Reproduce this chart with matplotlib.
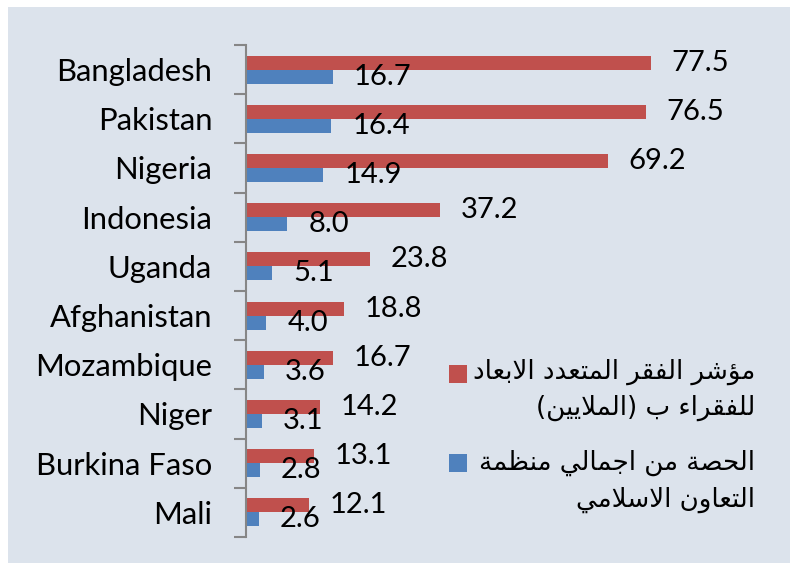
import matplotlib.pyplot as plt
from matplotlib.patches import Rectangle
import numpy as np

# Data
countries = ['Bangladesh', 'Pakistan', 'Nigeria', 'Indonesia', 'Uganda',
             'Afghanistan', 'Mozambique', 'Niger', 'Burkina Faso', 'Mali']
mpi_poor = [77.5, 76.5, 69.2, 37.2, 23.8, 18.8, 16.7, 14.2, 13.1, 12.1]
oic_share = [16.7, 16.4, 14.9, 8.0, 5.1, 4.0, 3.6, 3.1, 2.8, 2.6]
legend_lines = [['مؤشر الفقر المتعدد الابعاد', 'للفقراء ب (الملايين)'],
                ['الحصة من اجمالي منظمة', 'التعاون الاسلامي']]

red = '#c0504d'
blue = '#4f81bd'
bg = '#dce3ec'

# matplotlib has no arabic shaping, so build presentation forms by hand
AR_FORMS = {
    'ء': ('\ufe80',),
    'ا': ('\ufe8d', '\ufe8e'),
    'ؤ': ('\ufe85', '\ufe86'),
    'ب': ('\ufe8f', '\ufe90', '\ufe91', '\ufe92'),
    'ة': ('\ufe93', '\ufe94'),
    'ت': ('\ufe95', '\ufe96', '\ufe97', '\ufe98'),
    'ج': ('\ufe9d', '\ufe9e', '\ufe9f', '\ufea0'),
    'ح': ('\ufea1', '\ufea2', '\ufea3', '\ufea4'),
    'د': ('\ufea9', '\ufeaa'),
    'ر': ('\ufead', '\ufeae'),
    'س': ('\ufeb1', '\ufeb2', '\ufeb3', '\ufeb4'),
    'ش': ('\ufeb5', '\ufeb6', '\ufeb7', '\ufeb8'),
    'ص': ('\ufeb9', '\ufeba', '\ufebb', '\ufebc'),
    'ظ': ('\ufec5', '\ufec6', '\ufec7', '\ufec8'),
    'ع': ('\ufec9', '\ufeca', '\ufecb', '\ufecc'),
    'ف': ('\ufed1', '\ufed2', '\ufed3', '\ufed4'),
    'ق': ('\ufed5', '\ufed6', '\ufed7', '\ufed8'),
    'ل': ('\ufedd', '\ufede', '\ufedf', '\ufee0'),
    'م': ('\ufee1', '\ufee2', '\ufee3', '\ufee4'),
    'ن': ('\ufee5', '\ufee6', '\ufee7', '\ufee8'),
    'و': ('\ufeed', '\ufeee'),
    'ي': ('\ufef1', '\ufef2', '\ufef3', '\ufef4'),
}


def dual(c):
    return c in AR_FORMS and len(AR_FORMS[c]) == 4


def shape_ar(s):
    out = []
    i = 0
    while i < len(s):
        c = s[i]
        if c not in AR_FORMS:
            out.append(c)
            i += 1
            continue
        forms = AR_FORMS[c]
        prev = s[i - 1] if i > 0 else ''
        link_prev = dual(prev) and len(forms) >= 2
        if c == 'ل' and i + 1 < len(s) and s[i + 1] == 'ا':
            out.append('\ufefc' if link_prev else '\ufefb')
            i += 2
            continue
        nxt = s[i + 1] if i + 1 < len(s) else ''
        link_next = len(forms) == 4 and nxt in AR_FORMS and len(AR_FORMS[nxt]) >= 2
        if link_prev and link_next:
            out.append(forms[3])
        elif link_prev:
            out.append(forms[1])
        elif link_next:
            out.append(forms[2])
        else:
            out.append(forms[0])
        i += 1
    swap = {'(': ')', ')': '('}
    return ''.join(swap.get(ch, ch) for ch in reversed(out))


plt.rcParams['font.family'] = ['Lato', 'DejaVu Sans']

fig = plt.figure(figsize=(7.9, 5.65), dpi=100)
fig.patch.set_facecolor('white')
fig.add_artist(Rectangle((8 / 790, 2 / 565), 1, 1 - 9 / 565, transform=fig.transFigure,
                         facecolor=bg, edgecolor='none', zorder=-10))

ax = fig.add_axes([245.5 / 790, 28 / 565, (780 - 245.5) / 790, (537 - 45) / 565])
ax.set_facecolor('none')

y = -np.arange(len(countries))
h = 0.285
ax.barh(y + h / 2, mpi_poor, height=h, color=red)
ax.barh(y - h / 2, oic_share, height=h, color=blue)

for yi, v in zip(y, mpi_poor):
    ax.annotate(f'{v:.1f}', (v, yi + h / 2), xytext=(15, 0), textcoords='offset points',
                ha='left', va='center', fontsize=21, color='black')
for yi, v in zip(y, oic_share):
    ax.annotate(f'{v:.1f}', (v, yi - h / 2), xytext=(15, 0), textcoords='offset points',
                ha='left', va='center', fontsize=21, color='black')

ax.set_xlim(0, (780 - 245.5) / 5.232)
ax.set_ylim(-len(countries) + 0.5, 0.5)
ax.set_yticks(y)
ax.set_yticklabels(countries, fontsize=22.3)
ax.set_yticks(np.arange(-len(countries) + 0.5, 1, 1), minor=True)
ax.tick_params(axis='y', which='major', length=0, pad=24)
ax.tick_params(axis='y', which='minor', length=9, width=1.5, color='#868686')
ax.set_xticks([])
for s in ['top', 'right', 'bottom']:
    ax.spines[s].set_visible(False)
ax.spines['left'].set_color('#868686')
ax.spines['left'].set_linewidth(1.5)

# legend, drawn by hand so the arabic text stays right aligned
line_y = [[372, 408], [463, 500]]
box_y = [374, 463]
for lines, ys, by, col in zip(legend_lines, line_y, box_y, [red, blue]):
    fig.add_artist(Rectangle((449 / 790, 1 - (by + 9) / 565), 18 / 790, 18 / 565,
                             transform=fig.transFigure, facecolor=col, edgecolor='none'))
    for txt, ty in zip(lines, ys):
        fig.text(755 / 790, 1 - ty / 565, shape_ar(txt), ha='right', va='center',
                 fontsize=18.8, family='DejaVu Sans', color='black')

fig.savefig('out.png', dpi=100)
